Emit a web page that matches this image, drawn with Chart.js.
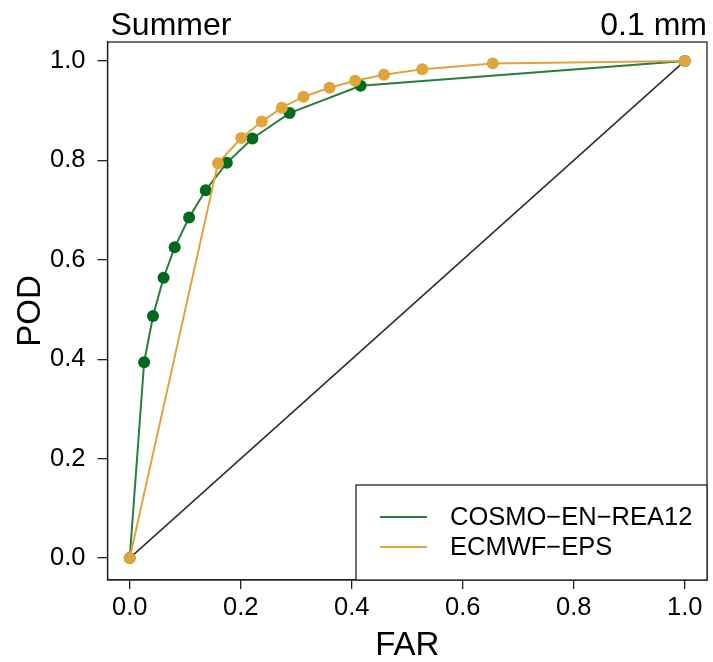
<!DOCTYPE html>
<html lang="en">
<head>
  <meta charset="UTF-8">
  <title>Summer ROC 0.1 mm</title>
  <script src="https://cdn.jsdelivr.net/npm/chart.js"></script>
  <style>
    body {
      margin: 0;
      background: #fff;
    }
    #roc {
      display: block;
    }
  </style>
</head>
<body>
  <canvas id="roc" width="713" height="662"></canvas>

  <script>
    // ROC points (FAR, POD)
    const cosmoFar = [0, 0.026, 0.042, 0.061, 0.081, 0.107, 0.137, 0.175, 0.221, 0.288, 0.416, 1];
    const cosmoPod = [0, 0.394, 0.487, 0.564, 0.625, 0.685, 0.740, 0.795, 0.844, 0.895, 0.950, 1];
    const ecmwfFar = [0, 0.159, 0.201, 0.238, 0.274, 0.313, 0.360, 0.406, 0.458, 0.527, 0.654, 1];
    const ecmwfPod = [0, 0.794, 0.845, 0.878, 0.906, 0.928, 0.946, 0.960, 0.972, 0.983, 0.995, 1];
    const diagonal = [0, 1];
    const tickValues = [0, 0.2, 0.4, 0.6, 0.8, 1.0];
    const seriesNames = ['COSMO\u2212EN\u2212REA12', 'ECMWF\u2212EPS'];

    const GREEN = '#006b1f';
    const GREEN_LINE = '#2a7d3b';
    const ORANGE = '#e0a43d';
    const FONT = "'Liberation Sans', Arial, Helvetica, sans-serif";

    const toXY = (xs, ys) => xs.map((x, i) => ({ x, y: ys[i] }));

    // frame, header texts and the legend box
    const decorations = {
      id: 'decorations',
      afterDraw(chart) {
        const { ctx, chartArea: a } = chart;
        ctx.save();
        ctx.strokeStyle = '#222';
        ctx.lineWidth = 1.3;
        ctx.strokeRect(a.left, a.top, a.right - a.left, a.bottom - a.top);

        ctx.fillStyle = '#000';
        ctx.font = '32px ' + FONT;
        ctx.textBaseline = 'alphabetic';
        ctx.textAlign = 'left';
        ctx.fillText('Summer', a.left + 3, 35);
        ctx.textAlign = 'right';
        ctx.fillText('0.1 mm', a.right, 35);

        // legend
        const lx = 356, ly = 485;
        ctx.fillStyle = '#fff';
        ctx.fillRect(lx, ly, a.right - lx, a.bottom - ly);
        ctx.strokeRect(lx, ly, a.right - lx, a.bottom - ly);
        const rows = [[seriesNames[0], GREEN_LINE, 517], [seriesNames[1], ORANGE, 547]];
        ctx.font = '25.5px ' + FONT;
        ctx.textAlign = 'left';
        ctx.textBaseline = 'middle';
        rows.forEach(([label, col, y]) => {
          ctx.strokeStyle = col;
          ctx.lineWidth = 2;
          ctx.beginPath();
          ctx.moveTo(380, y);
          ctx.lineTo(427, y);
          ctx.stroke();
          ctx.fillStyle = '#000';
          ctx.fillText(label, 450, y + 1);
        });
        ctx.restore();
      }
    };

    const fixedTicks = scale => {
      scale.ticks = tickValues.map(v => ({ value: v }));
    };

    new Chart(document.getElementById('roc'), {
      type: 'scatter',
      data: {
        datasets: [
          {
            label: 'diag',
            data: toXY(diagonal, diagonal),
            showLine: true,
            borderColor: '#2b2b2b',
            borderWidth: 1.5,
            pointRadius: 0,
            order: 3
          },
          {
            label: seriesNames[0],
            data: toXY(cosmoFar, cosmoPod),
            showLine: true,
            borderColor: GREEN_LINE,
            borderWidth: 2,
            backgroundColor: GREEN,
            pointBorderColor: GREEN,
            pointRadius: 6,
            pointBorderWidth: 0,
            order: 2
          },
          {
            label: seriesNames[1],
            data: toXY(ecmwfFar, ecmwfPod),
            showLine: true,
            borderColor: ORANGE,
            borderWidth: 2,
            backgroundColor: ORANGE,
            pointBorderColor: ORANGE,
            pointRadius: 6,
            pointBorderWidth: 0,
            order: 1
          }
        ]
      },
      options: {
        responsive: false,
        animation: false,
        devicePixelRatio: 1,
        layout: { padding: { top: 42, right: 5, left: 0, bottom: 0 } },
        plugins: {
          legend: { display: false },
          tooltip: { enabled: false }
        },
        scales: {
          x: {
            type: 'linear',
            min: -0.04,
            max: 1.04,
            afterBuildTicks: fixedTicks,
            afterFit: s => { s.height = 82; },
            grid: { drawOnChartArea: false, drawTicks: true, tickLength: 9, color: '#222', lineWidth: 1.3 },
            border: { display: true, color: '#222', width: 1.3 },
            ticks: {
              color: '#000',
              padding: 4,
              maxRotation: 0,
              font: { size: 25.5, family: FONT },
              callback: v => v.toFixed(1)
            },
            title: {
              display: true,
              text: 'FAR',
              color: '#000',
              padding: 0,
              font: { size: 33, family: FONT, lineHeight: 1 }
            }
          },
          y: {
            type: 'linear',
            min: -0.044,
            max: 1.038,
            afterBuildTicks: fixedTicks,
            afterFit: s => { s.width = 107.5; },
            grid: { drawOnChartArea: false, drawTicks: true, tickLength: 10, color: '#222', lineWidth: 1.3 },
            border: { display: true, color: '#222', width: 1.3 },
            ticks: {
              color: '#000',
              padding: 12,
              font: { size: 25.5, family: FONT },
              callback: v => v.toFixed(1)
            },
            title: {
              display: true,
              text: 'POD',
              color: '#000',
              padding: { top: 11, bottom: 0 },
              font: { size: 33, family: FONT, lineHeight: 1.2 }
            }
          }
        }
      },
      plugins: [decorations]
    });
  </script>
</body>
</html>
